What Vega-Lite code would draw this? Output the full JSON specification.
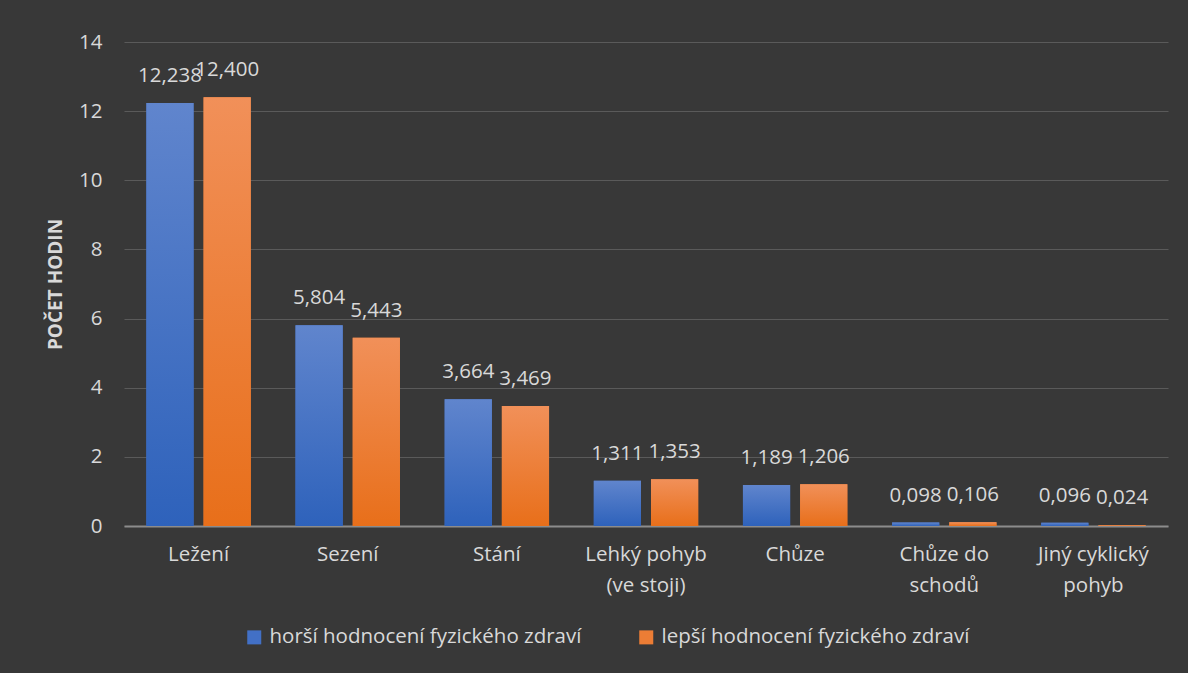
{
  "$schema": "https://vega.github.io/schema/vega-lite/v6.json",
  "width": 1044,
  "height": 484,
  "autosize": {"type": "none"},
  "padding": {"left": 124, "top": 42, "right": 20, "bottom": 147},
  "background": "#383838",
  "data": {
    "values": [
      {"cat": "Ležení", "series": "horší hodnocení fyzického zdraví", "v": 12.238},
      {"cat": "Ležení", "series": "lepší hodnocení fyzického zdraví", "v": 12.400},
      {"cat": "Sezení", "series": "horší hodnocení fyzického zdraví", "v": 5.804},
      {"cat": "Sezení", "series": "lepší hodnocení fyzického zdraví", "v": 5.443},
      {"cat": "Stání", "series": "horší hodnocení fyzického zdraví", "v": 3.664},
      {"cat": "Stání", "series": "lepší hodnocení fyzického zdraví", "v": 3.469},
      {"cat": "Lehký pohyb (ve stoji)", "series": "horší hodnocení fyzického zdraví", "v": 1.311},
      {"cat": "Lehký pohyb (ve stoji)", "series": "lepší hodnocení fyzického zdraví", "v": 1.353},
      {"cat": "Chůze", "series": "horší hodnocení fyzického zdraví", "v": 1.189},
      {"cat": "Chůze", "series": "lepší hodnocení fyzického zdraví", "v": 1.206},
      {"cat": "Chůze do schodů", "series": "horší hodnocení fyzického zdraví", "v": 0.098},
      {"cat": "Chůze do schodů", "series": "lepší hodnocení fyzického zdraví", "v": 0.106},
      {"cat": "Jiný cyklický pohyb", "series": "horší hodnocení fyzického zdraví", "v": 0.096},
      {"cat": "Jiný cyklický pohyb", "series": "lepší hodnocení fyzického zdraví", "v": 0.024}
    ]
  },
  "encoding": {
    "x": {
      "field": "cat",
      "type": "nominal",
      "sort": null,
      "scale": {"paddingInner": 0.3, "paddingOuter": 0.15},
      "axis": {
        "title": null,
        "labelAngle": 0,
        "labelPadding": 18,
        "labelFontSize": 20.5,
        "labelColor": "#d9d9d9",
        "labelFont": "Open Sans",
        "labelLineHeight": 31,
        "labelBaseline": "top",
        "labelLimit": 0,
        "ticks": false,
        "domainColor": "#8c8c8c",
        "domainWidth": 2,
        "labelExpr": "datum.value == 'Lehký pohyb (ve stoji)' ? ['Lehký pohyb', '(ve stoji)'] : datum.value == 'Chůze do schodů' ? ['Chůze do', 'schodů'] : datum.value == 'Jiný cyklický pohyb' ? ['Jiný cyklický', 'pohyb'] : datum.value"
      }
    },
    "xOffset": {
      "field": "series",
      "type": "nominal",
      "scale": {"paddingInner": 0.175, "paddingOuter": 0}
    },
    "y": {
      "field": "v",
      "type": "quantitative",
      "scale": {"domain": [0, 14]},
      "axis": {
        "title": "POČET HODIN",
        "titleFont": "Open Sans",
        "titleFontSize": 19,
        "titleFontWeight": "bold",
        "titleColor": "#d9d9d9",
        "titlePadding": 13,
        "values": [0, 2, 4, 6, 8, 10, 12, 14],
        "labelFontSize": 20.5,
        "labelFont": "Open Sans",
        "labelColor": "#d9d9d9",
        "labelPadding": 22,
        "ticks": false,
        "domain": false,
        "gridColor": "#5a5a5a",
        "gridWidth": 1
      }
    }
  },
  "layer": [
    {
      "mark": {"type": "bar"},
      "encoding": {
        "color": {
          "field": "series",
          "type": "nominal",
          "scale": {
            "domain": ["horší hodnocení fyzického zdraví", "lepší hodnocení fyzického zdraví"],
            "range": ["#4270c6", "#ec7d35"]
          },
          "legend": {
            "title": null,
            "orient": "none",
            "legendX": 120,
            "legendY": 585,
            "direction": "horizontal",
            "columns": 2,
            "columnPadding": 54,
            "symbolType": "square",
            "symbolSize": 196,
            "symbolStrokeWidth": 0,
            "labelFont": "Open Sans",
            "labelFontSize": 20.5,
            "labelColor": "#d9d9d9",
            "labelOffset": 5,
            "labelLimit": 0,
            "padding": 0
          }
        }
      }
    },
    {
      "transform": [{"filter": "datum.series == 'horší hodnocení fyzického zdraví'"}],
      "mark": {
        "type": "bar",
        "color": {
          "gradient": "linear",
          "x1": 0, "y1": 0, "x2": 0, "y2": 1,
          "stops": [
            {"offset": 0, "color": "#6085cd"},
            {"offset": 1, "color": "#2e62bb"}
          ]
        }
      },
      "encoding": {}
    },
    {
      "transform": [{"filter": "datum.series == 'lepší hodnocení fyzického zdraví'"}],
      "mark": {
        "type": "bar",
        "color": {
          "gradient": "linear",
          "x1": 0, "y1": 0, "x2": 0, "y2": 1,
          "stops": [
            {"offset": 0, "color": "#f19059"},
            {"offset": 1, "color": "#e86f1a"}
          ]
        }
      },
      "encoding": {}
    },
    {
      "mark": {
        "type": "text",
        "baseline": "alphabetic",
        "dy": -21,
        "fontSize": 20.5,
        "font": "Open Sans",
        "color": "#d9d9d9"
      },
      "encoding": {
        "text": {"field": "v", "type": "quantitative", "format": ".3f"}
      }
    }
  ],
  "config": {
    "view": {"stroke": null},
    "locale": {
      "number": {
        "decimal": ",",
        "thousands": " ",
        "grouping": [3],
        "currency": ["", " Kč"]
      }
    }
  }
}
